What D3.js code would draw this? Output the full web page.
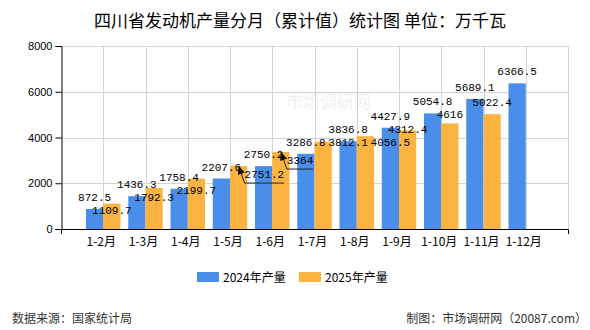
<!DOCTYPE html>
<html>
<head>
<meta charset="utf-8">
<script src="https://cdn.jsdelivr.net/npm/d3@7"></script>
<style>
  html, body { margin: 0; padding: 0; background: #fff; }
  svg { display: block; }
</style>
</head>
<body>
<script>
// ---------- data ----------
const categories = ["1-2月","1-3月","1-4月","1-5月","1-6月","1-7月","1-8月","1-9月","1-10月","1-11月","1-12月"];
const values2024 = [872.5, 1436.3, 1758.4, 2207.6, 2750.2, 3286.8, 3836.8, 4427.9, 5054.8, 5689.1, 6366.5];
const values2025 = [1109.7, 1792.3, 2199.7, 2751.2, 3364, 3812.1, 4056.5, 4312.4, 4616, 5022.4, null];
const seriesNames = ["2024年产量", "2025年产量"];
const yTicks = [0, 2000, 4000, 6000, 8000];
const leaderCategories = ["1-5月", "1-6月"];   // 2025 labels drawn with a leader line

const titleText = "四川省发动机产量分月（累计值）统计图 单位：万千瓦";
const sourceText = "数据来源：国家统计局";
const creditText = "制图：市场调研网（20087.com）";

(function () {
// ---------- layout ----------
const W = 590, H = 330;
const mLeft = 61, mRight = 568, mTop = 46, mBottom = 229;
const colors = ["#4a8eea", "#fbb341"];
const labelFont = "'Liberation Mono', 'DejaVu Sans Mono', monospace";
const cjkFont = "'Noto Sans CJK SC', 'Noto Sans', sans-serif";
const charW = 6.6;

const svg = d3.select("body").append("svg").attr("width", W).attr("height", H);
svg.append("rect").attr("width", W).attr("height", H).attr("fill", "#fff");

const step = (mRight - mLeft) / (categories.length + 1);
const x = d3.scaleBand().domain(categories).range([mLeft + step / 2, mRight - step / 2]).padding(0);
const barW = step * 0.408;
const xs = d3.scaleBand().domain([0, 1]).range([x.bandwidth() / 2 - barW, x.bandwidth() / 2 + barW]);
const y = d3.scaleLinear().domain([0, 8000]).range([mBottom, mTop]);

// title
svg.append("text").attr("x", 300).attr("y", 27).attr("text-anchor", "middle")
  .attr("font-family", cjkFont).attr("font-size", 17).attr("fill", "#000")
  .text(titleText);

// watermark
svg.append("text").attr("x", 286).attr("y", 108)
  .attr("font-family", cjkFont).attr("font-size", 17).attr("fill", "#000").attr("opacity", 0.05)
  .text("市场调研网");

// grid
const grid = svg.append("g").attr("stroke", "#d4d4d4").attr("stroke-width", 1);
yTicks.filter(t => t > 0).forEach(t => {
  grid.append("line").attr("x1", mLeft).attr("x2", mRight)
    .attr("y1", Math.round(y(t)) + 0.5).attr("y2", Math.round(y(t)) + 0.5);
});
categories.forEach(c => {
  const cx = Math.round(x(c) + x.bandwidth() / 2) + 0.5;
  grid.append("line").attr("x1", cx).attr("x2", cx).attr("y1", y(8000)).attr("y2", mBottom);
});
grid.append("line").attr("x1", mRight + 0.5).attr("x2", mRight + 0.5).attr("y1", y(8000)).attr("y2", mBottom);

// bars
const series = [values2024, values2025];
series.forEach((vals, s) => {
  svg.append("g").selectAll("rect")
    .data(categories.map((c, i) => ({ c, v: vals[i] })).filter(d => d.v != null))
    .join("rect")
    .attr("x", d => x(d.c) + xs(s))
    .attr("width", xs.bandwidth())
    .attr("y", d => y(d.v))
    .attr("height", d => y(0) - y(d.v))
    .attr("fill", colors[s]);
});

// axes
const yAxis = svg.append("g").attr("transform", `translate(${mLeft + 0.5},0)`)
  .call(d3.axisLeft(y).tickValues(yTicks).tickSize(6).tickPadding(3).tickFormat(d3.format("d")));
yAxis.selectAll("text").attr("font-family", "'Liberation Sans', Arial, sans-serif").attr("font-size", 11).attr("fill", "#000");
yAxis.selectAll("line, path").attr("stroke", "#000");

const xAxis = svg.append("g").attr("transform", `translate(0,${mBottom})`)
  .call(d3.axisBottom(x).tickSize(0).tickPadding(8));
xAxis.select(".domain").remove();
xAxis.selectAll("text").attr("font-family", cjkFont).attr("font-size", 12).attr("fill", "#000").attr("dx", -2);
svg.append("path").attr("fill", "none").attr("stroke", "#000")
  .attr("d", `M${mLeft + 0.5},${mBottom + 5}V${mBottom + 0.5}H${mRight + 0.5}V${mBottom + 5}`);

// ---------- value labels ----------
function boxOf(l) {
  const w = l.text.length * charW;
  const x0 = l.anchor === "start" ? l.x : l.x - w / 2;
  return { x0, x1: x0 + w, y0: l.cy - 5.8, y1: l.cy + 5.8 };
}
function overlaps(a, b) {
  const A = boxOf(a), B = boxOf(b);
  return A.x0 < B.x1 && B.x0 < A.x1 && A.y0 < B.y1 && B.y0 < A.y1;
}
const placed = [];
const blueLabels = categories.map((c, i) => {
  const l = { text: String(values2024[i]), x: x(c) + xs(0) + xs.bandwidth() / 2, cy: y(values2024[i]) - 12, anchor: "middle" };
  placed.push(l);
  return l;
});
const leaders = [];
categories.forEach((c, i) => {
  const v = values2025[i];
  if (v == null) return;
  const cx = x(c) + xs(1) + xs.bandwidth() / 2;
  const base = { text: String(v), x: cx, cy: y(v) - 12, anchor: "middle" };
  if (leaderCategories.includes(c)) {
    const l = { text: base.text, x: cx + 6, cy: base.cy + 20, anchor: "start" };
    leaders.push({ x0: cx, y0: y(v), x1: l.x, y1: l.cy + 9, x2: l.x + l.text.length * charW });
    placed.push(l);
    return;
  }
  const conf = placed.filter(p => overlaps(base, p));
  if (!conf.length) { placed.push(base); return; }
  const moved = { ...base, cy: d3.max(conf, p => p.cy) + 13 };
  if (!placed.some(p => overlaps(moved, p)) || !blueLabels[i + 1]) { placed.push(moved); return; }
  const nb = blueLabels[i + 1];
  const alt = { ...base, x: nb.x, cy: Math.max(moved.cy, nb.cy + 13) };
  placed.push(placed.some(p => overlaps(alt, p)) ? moved : alt);
});

// leader lines
const lg = svg.append("g");
leaders.forEach(d => {
  lg.append("path").attr("fill", "none").attr("stroke", "#222").attr("stroke-width", 1)
    .attr("d", `M${d.x0},${d.y0}L${d.x1},${d.y1}H${d.x2}`);
  const ang = Math.atan2(d.y1 - d.y0, d.x1 - d.x0);
  const L = 9, sp = 0.42;
  const p1 = [d.x0 + L * Math.cos(ang - sp), d.y0 + L * Math.sin(ang - sp)];
  const p2 = [d.x0 + L * Math.cos(ang + sp), d.y0 + L * Math.sin(ang + sp)];
  lg.append("path").attr("fill", "#111")
    .attr("d", `M${d.x0},${d.y0}L${p1[0]},${p1[1]}L${p2[0]},${p2[1]}Z`);
});

svg.append("g").selectAll("text").data(placed).join("text")
  .attr("x", d => d.x).attr("y", d => d.cy + 4)
  .attr("text-anchor", d => d.anchor)
  .attr("font-family", labelFont).attr("font-size", 11).attr("fill", "#000")
  .text(d => d.text);

// ---------- legend ----------
const legendX = [197, 299];
seriesNames.forEach((n, s) => {
  svg.append("rect").attr("x", legendX[s]).attr("y", 272).attr("width", 22).attr("height", 10).attr("fill", colors[s]);
  svg.append("text").attr("x", legendX[s] + 26).attr("y", 281.5)
    .attr("font-family", cjkFont).attr("font-size", 12).attr("fill", "#000").text(n);
});

// ---------- footer ----------
svg.append("text").attr("x", 12).attr("y", 323)
  .attr("font-family", cjkFont).attr("font-size", 12).attr("fill", "#333").text(sourceText);
svg.append("text").attr("x", 587).attr("y", 323).attr("text-anchor", "end")
  .attr("font-family", cjkFont).attr("font-size", 12).attr("fill", "#333").text(creditText);
})();
</script>
</body>
</html>
